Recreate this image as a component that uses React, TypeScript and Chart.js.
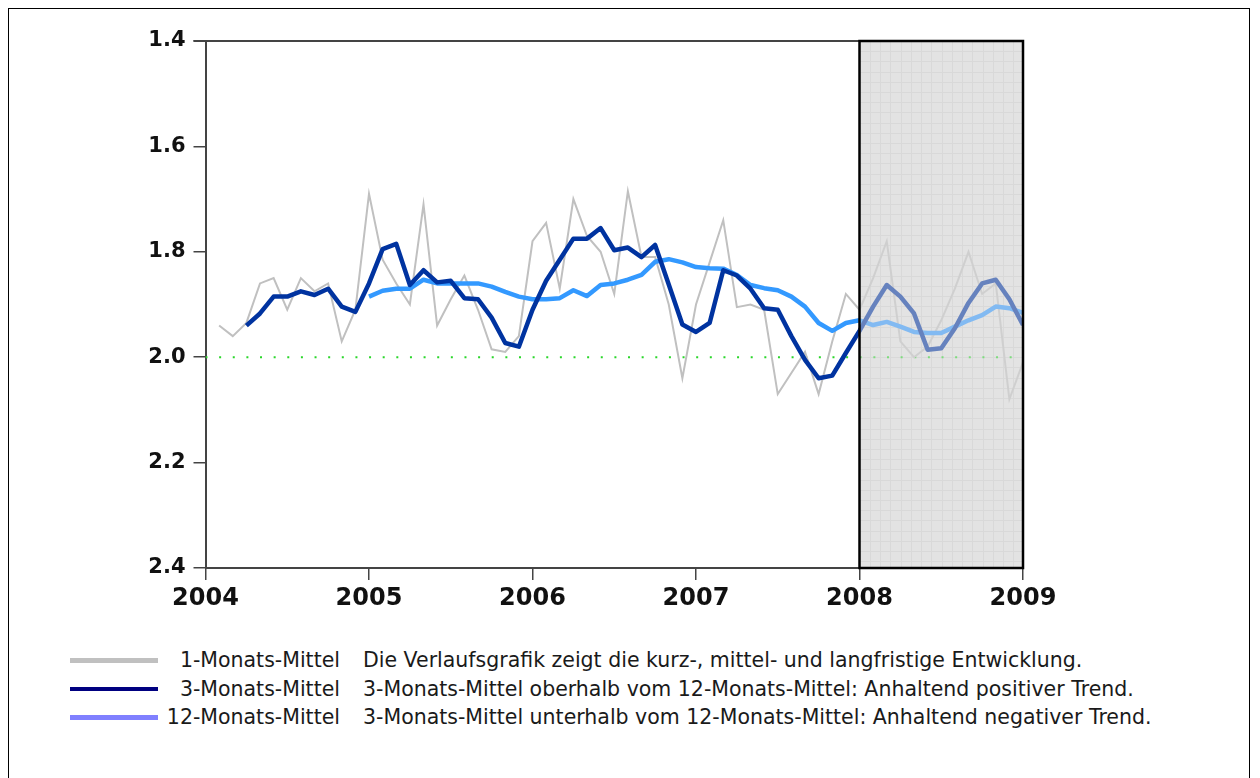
import React, { useEffect, useRef } from "react";
import { Chart, registerables } from "chart.js";

Chart.register(...registerables);

// Month index 0 = Jan 2004
const startYear = 2004;
const xTickYears = [2004, 2005, 2006, 2007, 2008, 2009];
const yTicks = ["1.4", "1.6", "1.8", "2.0", "2.2", "2.4"];

// 1-Monats-Mittel, starts at month index 1
const oneMonthStart = 1;
const oneMonth = [
  1.94, 1.96, 1.935, 1.86, 1.85, 1.91, 1.85, 1.875, 1.86, 1.97, 1.91, 1.69,
  1.815, 1.86, 1.9, 1.71, 1.94, 1.89, 1.845, 1.91, 1.985, 1.99, 1.96, 1.78,
  1.745, 1.87, 1.7, 1.77, 1.8, 1.88, 1.685, 1.81, 1.81, 1.9, 2.04, 1.9,
  1.82, 1.74, 1.905, 1.9, 1.91, 2.07, 2.03, 1.99, 2.07, 1.97, 1.88, 1.91,
  1.85, 1.78, 1.97, 2.0, 1.98, 1.93, 1.87, 1.8, 1.88, 1.86, 2.08, 2.01,
];

// 3-Monats-Mittel, starts at month index 3
const threeMonthStart = 3;
const threeMonth = [
  1.94, 1.917, 1.885, 1.885, 1.875, 1.882, 1.87, 1.904, 1.914, 1.86,
  1.795, 1.785, 1.863, 1.835, 1.858, 1.855, 1.888, 1.89, 1.925, 1.973, 1.98, 1.91,
  1.855, 1.815, 1.775, 1.775, 1.755, 1.797, 1.792, 1.81, 1.787, 1.862, 1.938, 1.952,
  1.935, 1.835, 1.845, 1.87, 1.907, 1.91, 1.96, 2.005, 2.04, 2.035, 1.992, 1.95,
  1.904, 1.863, 1.885, 1.917, 1.986, 1.983, 1.945, 1.897, 1.86, 1.853, 1.89, 1.939,
];

// 12-Monats-Mittel, starts at month index 12
const twelveMonthStart = 12;
const twelveMonth = [
  1.885, 1.874, 1.87, 1.87, 1.853, 1.86, 1.86, 1.86, 1.86, 1.866, 1.876, 1.885, 1.89,
  1.89, 1.888, 1.873, 1.884, 1.863, 1.86, 1.853, 1.844, 1.819, 1.814, 1.82, 1.829,
  1.831, 1.832, 1.844, 1.863, 1.869, 1.873, 1.885, 1.904, 1.935, 1.95, 1.935, 1.93,
  1.939, 1.933, 1.942, 1.952, 1.954, 1.954, 1.942, 1.93, 1.92, 1.904, 1.907, 1.916,
];

const referenceLevel = 2.0;
const shadeFrom = 48;
const shadeTo = 60;

const legendRows = [
  {
    label: "1-Monats-Mittel",
    text: "Die Verlaufsgrafik zeigt die kurz-, mittel- und langfristige Entwicklung.",
    color: "#c0c0c0",
  },
  {
    label: "3-Monats-Mittel",
    text: "3-Monats-Mittel oberhalb vom 12-Monats-Mittel: Anhaltend positiver Trend.",
    color: "#000080",
  },
  {
    label: "12-Monats-Mittel",
    text: "3-Monats-Mittel unterhalb vom 12-Monats-Mittel: Anhaltend negativer Trend.",
    color: "#8080ff",
  },
];

const toPoints = (start: number, arr: number[]) =>
  arr.map((v, k) => ({ x: start + k, y: v }));

const shadePlugin = {
  id: "shade",
  beforeDatasetsDraw(chart: any) {
    const { ctx, chartArea, scales } = chart;
    const x0 = scales.x.getPixelForValue(shadeFrom);
    const x1 = scales.x.getPixelForValue(shadeTo);
    const y0 = chartArea.top;
    const y1 = chartArea.bottom;
    ctx.save();
    ctx.fillStyle = "#e3e3e3";
    ctx.fillRect(x0, y0, x1 - x0, y1 - y0);
    ctx.strokeStyle = "#d2d2d2";
    ctx.lineWidth = 1;
    ctx.beginPath();
    for (let x = x0 + 10.25; x < x1; x += 10.25) {
      ctx.moveTo(Math.round(x) + 0.5, y0);
      ctx.lineTo(Math.round(x) + 0.5, y1);
    }
    for (let y = y0 + 10.2; y < y1; y += 10.2) {
      ctx.moveTo(x0, Math.round(y) + 0.5);
      ctx.lineTo(x1, Math.round(y) + 0.5);
    }
    ctx.stroke();
    ctx.restore();
  },
  afterDatasetsDraw(chart: any) {
    const { ctx, chartArea, scales } = chart;
    const x0 = scales.x.getPixelForValue(shadeFrom);
    const x1 = scales.x.getPixelForValue(shadeTo);
    const y0 = chartArea.top;
    const y1 = chartArea.bottom;
    ctx.save();
    // top frame line
    ctx.strokeStyle = "#444";
    ctx.lineWidth = 2;
    ctx.beginPath();
    ctx.moveTo(chartArea.left - 12, y0);
    ctx.lineTo(chartArea.right, y0);
    ctx.stroke();
    // fading overlay
    ctx.fillStyle = "rgba(226,226,226,0.45)";
    ctx.fillRect(x0, y0, x1 - x0, y1 - y0);
    ctx.strokeStyle = "#000";
    ctx.lineWidth = 2.5;
    ctx.strokeRect(x0, y0, x1 - x0, y1 - y0);
    ctx.restore();
  },
};

export default function App() {
  const canvasRef = useRef<HTMLCanvasElement | null>(null);

  useEffect(() => {
    if (!canvasRef.current) return;
    const refPoints = Array.from({ length: 61 }, (_, i) => ({ x: i, y: referenceLevel }));
    const chart = new Chart(canvasRef.current, {
      type: "line",
      data: {
        datasets: [
          {
            label: "3-Monats-Mittel",
            data: toPoints(threeMonthStart, threeMonth),
            borderColor: "rgb(0,51,160)",
            borderWidth: 4.5,
            pointRadius: 0,
            tension: 0,
            borderJoinStyle: "round",
          },
          {
            label: "12-Monats-Mittel",
            data: toPoints(twelveMonthStart, twelveMonth),
            borderColor: "rgb(51,153,255)",
            borderWidth: 4.5,
            pointRadius: 0,
            tension: 0,
            borderJoinStyle: "round",
          },
          {
            label: "1-Monats-Mittel",
            data: toPoints(oneMonthStart, oneMonth),
            borderColor: "#c0c0c0",
            borderWidth: 2,
            pointRadius: 0,
            tension: 0,
          },
          {
            label: "Referenz",
            data: refPoints,
            borderColor: "#2ad62a",
            borderWidth: 2,
            borderDash: [2, 11.63],
            borderDashOffset: -13.63,
            pointRadius: 0,
            tension: 0,
          },
        ],
      },
      options: {
        animation: false,
        responsive: false,
        maintainAspectRatio: false,
        layout: { padding: { left: 0, top: 32, right: 226, bottom: 0 } },
        plugins: {
          legend: { display: false },
          tooltip: { enabled: false },
        },
        scales: {
          x: {
            type: "linear",
            min: 0,
            max: 60,
            afterFit: (s: any) => {
              s.height = 61;
            },
            border: { display: true, color: "#444", width: 2 },
            grid: {
              drawOnChartArea: false,
              drawTicks: true,
              tickLength: 12,
              color: "#444",
              lineWidth: 1.5,
            },
            ticks: {
              stepSize: 12,
              padding: 4,
              color: "#111",
              font: { family: "DejaVu Sans", weight: "bold", size: 24 },
              callback: (v: any) => {
                const y = startYear + Number(v) / 12;
                return xTickYears.includes(y) ? String(y) : "";
              },
              maxRotation: 0,
            },
          },
          y: {
            type: "linear",
            reverse: true,
            min: 1.4,
            max: 2.4,
            afterFit: (s: any) => {
              s.width = 196.5;
            },
            border: { display: true, color: "#444", width: 2 },
            grid: {
              drawOnChartArea: false,
              drawTicks: true,
              tickLength: 12,
              color: "#444",
              lineWidth: 1.5,
            },
            ticks: {
              stepSize: 0.2,
              padding: 8,
              color: "#111",
              font: { family: "DejaVu Sans", weight: "bold", size: 21 },
              callback: (v: any) => {
                const s = Number(v).toFixed(1);
                return yTicks.includes(s) ? s : "";
              },
            },
          },
        },
      },
      plugins: [shadePlugin],
    });
    return () => chart.destroy();
  }, []);

  return (
    <div
      style={{
        position: "relative",
        width: 1240,
        height: 800,
        border: "1px solid #000",
        borderBottom: "none",
        background: "#fff",
        fontFamily: "'DejaVu Sans', Verdana, sans-serif",
      }}
    >
      <canvas
        ref={canvasRef}
        width={1240}
        height={620}
        style={{ position: "absolute", left: 0, top: 0, width: 1240, height: 620 }}
      />
      {legendRows.map((r, i) => (
        <div
          key={r.label}
          style={{
            position: "absolute",
            left: 0,
            top: 639 + i * 28.5,
            height: 24,
            width: 1240,
            lineHeight: "24px",
            fontSize: 20.5,
            color: "#1a1a1a",
            whiteSpace: "nowrap",
          }}
        >
          <span
            style={{
              position: "absolute",
              left: 61,
              top: 10,
              width: 88,
              height: 4.5,
              background: r.color,
            }}
          />
          <span
            style={{
              position: "absolute",
              left: 100,
              width: 231,
              textAlign: "right",
            }}
          >
            {r.label}
          </span>
          <span style={{ position: "absolute", left: 354 }}>{r.text}</span>
        </div>
      ))}
    </div>
  );
}
